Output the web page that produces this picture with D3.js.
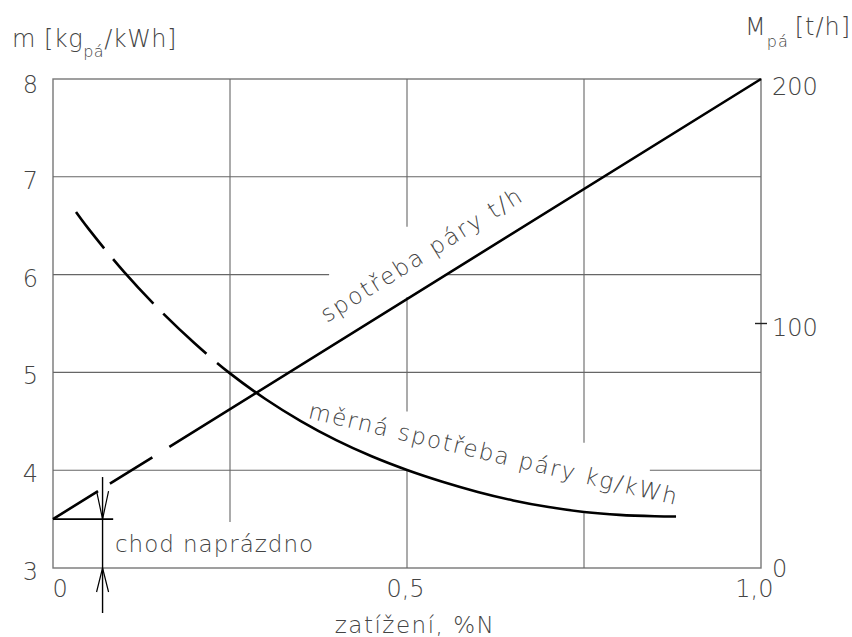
<!DOCTYPE html>
<html>
<head>
<meta charset="utf-8">
<script src="https://cdn.jsdelivr.net/npm/d3@7"></script>
<style>
  body { margin: 0; background: #fff; }
  text { font-family: "DejaVu Sans", sans-serif; font-weight: 200; fill: #444; }
</style>
</head>
<body>
<div id="chart"></div>
<script>
// load as fraction of nominal output
var loadTicks = [0, 0.5, 1];
var loadTickLabels = ["0", "0,5", "1,0"];
var mTicks = [3, 4, 5, 6, 7, 8];
var steamTicks = [0, 100, 200];

// steam consumption [t/h], straight line
var steamLoad = [0, 1];
var steamFlow = [20, 200];

// specific steam consumption [kg/kWh]
var specLoad = [0.0325, 0.05, 0.1, 0.15, 0.2, 0.25, 0.3, 0.35, 0.4, 0.45, 0.5,
                0.55, 0.6, 0.65, 0.7, 0.75, 0.8, 0.85, 0.88];
var specValue = [6.64, 6.47, 6.03, 5.643, 5.298, 4.99, 4.728, 4.502, 4.307, 4.142, 4.002,
                 3.882, 3.778, 3.691, 3.623, 3.573, 3.543, 3.529, 3.526];

// grid pieces (gaps left for the labels), in data units
var vGrid = [
    { load: 0.25, from: 3.47, to: 8 },
    { load: 0.5, from: 6.49, to: 8 },
    { load: 0.5, from: 4.60, to: 5.77 },
    { load: 0.5, from: 3, to: 4.01 },
    { load: 0.75, from: 4.28, to: 8 },
    { load: 0.75, from: 3, to: 3.56 }
];
var hGrid = [
    { m: 7, from: 0, to: 1 },
    { m: 6, from: 0, to: 0.39 },
    { m: 6, from: 0.556, to: 1 },
    { m: 5, from: 0, to: 1 },
    { m: 4, from: 0, to: 0.5 },
    { m: 4, from: 0.843, to: 1 }
];

// no-load consumption marker
var idleLoad = 0.07;
var idleM = 3.5;

var margin = { top: 79, right: 91, bottom: 69, left: 53 };
var width = 852 - margin.left - margin.right;
var height = 637 - margin.top - margin.bottom;

var svg = d3.select("#chart")
    .append("svg")
    .attr("width", 852)
    .attr("height", 637)
    .append("g")
    .attr("transform", "translate(" + margin.left + "," + margin.top + ")");

var x = d3.scaleLinear().domain([0, 1]).range([0, width]);
var y = d3.scaleLinear().domain([3, 8]).range([height, 0]);
var yR = d3.scaleLinear().domain([0, 200]).range([height, 0]);

var gridColor = "#666";

// frame
svg.append("rect")
    .attr("x", x(0)).attr("y", y(8))
    .attr("width", x(1) - x(0)).attr("height", y(3) - y(8))
    .attr("fill", "none")
    .attr("stroke", "#777")
    .attr("stroke-width", 1.4);

svg.selectAll(".vgrid")
    .data(vGrid)
    .enter().append("line")
    .attr("x1", d => x(d.load)).attr("x2", d => x(d.load))
    .attr("y1", d => y(d.from)).attr("y2", d => y(d.to))
    .attr("stroke", gridColor).attr("stroke-width", 1.1);

svg.selectAll(".hgrid")
    .data(hGrid)
    .enter().append("line")
    .attr("x1", d => x(d.from)).attr("x2", d => x(d.to))
    .attr("y1", d => y(d.m)).attr("y2", d => y(d.m))
    .attr("stroke", gridColor).attr("stroke-width", 1.1);

// left axis labels
var leftAxis = svg.append("g")
    .call(d3.axisLeft(y).tickValues(mTicks).tickSize(0).tickPadding(15).tickFormat(d3.format("d")));
leftAxis.select(".domain").remove();
leftAxis.selectAll("text")
    .style("font-size", "24px")
    .attr("dy", d => d == 8 ? "0.58em" : "0.48em");

// right axis labels
var rightAxis = svg.append("g")
    .attr("transform", "translate(" + width + ",0)")
    .call(d3.axisRight(yR).tickValues(steamTicks).tickSize(0).tickPadding(11));
rightAxis.select(".domain").remove();
rightAxis.selectAll("text")
    .style("font-size", "24px")
    .attr("dy", d => d == 200 ? "0.66em" : d == 0 ? "0.37em" : "0.48em");

svg.append("line")
    .attr("x1", x(1) - 6).attr("x2", x(1) + 6)
    .attr("y1", yR(100)).attr("y2", yR(100))
    .attr("stroke", "#222").attr("stroke-width", 1.4);

// bottom axis labels
var bottomAxis = svg.append("g")
    .attr("transform", "translate(0," + height + ")")
    .call(d3.axisBottom(x).tickValues(loadTicks).tickSize(0).tickPadding(12)
        .tickFormat((d, i) => loadTickLabels[i]));
bottomAxis.select(".domain").remove();
bottomAxis.selectAll("text")
    .style("font-size", "24px")
    .attr("text-anchor", (d, i) => i == 0 ? "start" : i == 2 ? "end" : "middle")
    .attr("dx", (d, i) => i == 0 ? "-1px" : i == 2 ? "12px" : "-2px");

// axis titles
var tl = svg.append("text")
    .attr("x", 12 - margin.left).attr("y", 47 - margin.top)
    .style("font-size", "24px").style("letter-spacing", "0.5px");
tl.append("tspan").text("m [kg");
tl.append("tspan").attr("dy", 10).style("font-size", "16px").text("pá");
tl.append("tspan").attr("dy", -10).text("/kWh]");

var tr = svg.append("text")
    .attr("x", 745 - margin.left).attr("y", 35 - margin.top)
    .style("font-size", "24px").style("letter-spacing", "1px");
tr.append("tspan").text("M");
tr.append("tspan").attr("dy", 12).style("font-size", "16px").text("pá");
tr.append("tspan").attr("dy", -12).attr("dx", 6).text("[t/h]");

svg.append("text")
    .attr("x", x(0.5) + 8).attr("y", height + 65)
    .attr("text-anchor", "middle")
    .style("font-size", "23px").style("letter-spacing", "1.5px")
    .text("zatížení, %N");

// steam consumption line
svg.append("path")
    .datum(d3.zip(steamLoad, steamFlow))
    .attr("d", d3.line().x(d => x(d[0])).y(d => yR(d[1])))
    .attr("fill", "none")
    .attr("stroke", "#000")
    .attr("stroke-width", 2.6)
    .attr("stroke-dasharray", "53,14,50,20,3000");

// specific steam consumption curve
svg.append("path")
    .datum(d3.zip(specLoad, specValue))
    .attr("d", d3.line().curve(d3.curveCatmullRom).x(d => x(d[0])).y(d => y(d[1])))
    .attr("fill", "none")
    .attr("stroke", "#000")
    .attr("stroke-width", 2.6)
    .attr("stroke-dasharray", "46,14,60,14,59,14,3000");

// curve labels
var angle = Math.atan2(yR(200) - yR(20), x(1) - x(0)) * 180 / Math.PI;
var lx = x(0.403), ly = yR(20 + 180 * 0.403);
svg.append("text")
    .attr("transform", "translate(" + lx + "," + ly + ") rotate(" + angle + ")")
    .attr("dy", -22)
    .attr("textLength", 232).attr("lengthAdjust", "spacing")
    .style("font-size", "23px")
    .text("spotřeba páry t/h");

var mx = x(0.359), my = y(4.535);
svg.append("text")
    .attr("transform", "translate(" + mx + "," + my + ") rotate(13.3)")
    .attr("textLength", 378).attr("lengthAdjust", "spacing")
    .style("font-size", "23px")
    .text("měrná spotřeba páry kg/kWh");

// no-load marker
var ax = x(idleLoad);
svg.append("line")
    .attr("x1", x(0)).attr("x2", x(0.085))
    .attr("y1", y(idleM)).attr("y2", y(idleM))
    .attr("stroke", "#000").attr("stroke-width", 1.6);
svg.append("line")
    .attr("x1", ax).attr("x2", ax)
    .attr("y1", y(3.93)).attr("y2", y(2.54))
    .attr("stroke", "#000").attr("stroke-width", 1.4);
var arrow = d3.line();
svg.append("path")
    .attr("d", arrow([[ax - 6, y(idleM) - 28], [ax, y(idleM)], [ax + 6, y(idleM) - 28]]))
    .attr("fill", "none").attr("stroke", "#000").attr("stroke-width", 1.2);
svg.append("path")
    .attr("d", arrow([[ax - 6, y(3) + 24], [ax, y(3)], [ax + 6, y(3) + 24]]))
    .attr("fill", "none").attr("stroke", "#000").attr("stroke-width", 1.2);

svg.append("text")
    .attr("x", 115 - margin.left).attr("y", 552 - margin.top)
    .attr("textLength", 198).attr("lengthAdjust", "spacing")
    .style("font-size", "23px")
    .text("chod naprázdno");
</script>
</body>
</html>
